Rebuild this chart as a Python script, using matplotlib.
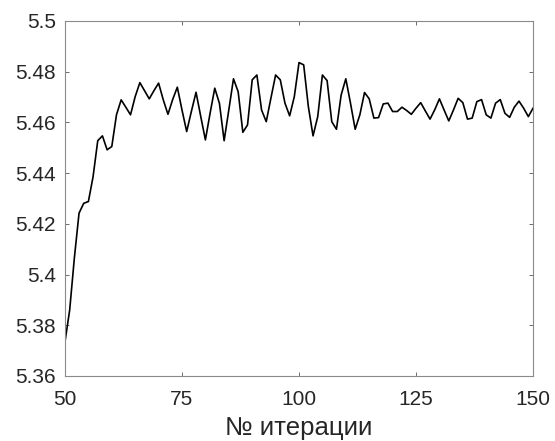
import matplotlib
matplotlib.use('Agg')
import matplotlib.pyplot as plt
from matplotlib.ticker import FuncFormatter

iterations = list(range(50, 151))
values = [
    5.3735, 5.386, 5.4065, 5.4242, 5.4281, 5.4288, 5.4386, 5.4528, 5.4547, 5.4492,
    5.4505, 5.463, 5.4689, 5.466, 5.463, 5.4702, 5.4757, 5.4725, 5.4693, 5.4725,
    5.4755, 5.4689, 5.4632, 5.469, 5.4739, 5.4649, 5.4564, 5.4643, 5.4719, 5.4624,
    5.4531, 5.4636, 5.4735, 5.4675, 5.4528, 5.4649, 5.4772, 5.4721, 5.4561, 5.459,
    5.4768, 5.4787, 5.4649, 5.4603, 5.4696, 5.4787, 5.4768, 5.4676, 5.4626, 5.4702,
    5.4836, 5.4827, 5.4662, 5.4547, 5.4623, 5.4787, 5.4765, 5.4603, 5.4573, 5.4708,
    5.4772, 5.4676, 5.4573, 5.463, 5.4718, 5.4693, 5.4617, 5.4619, 5.4673, 5.4676,
    5.4643, 5.4643, 5.466, 5.4647, 5.4632, 5.4656, 5.4678, 5.4645, 5.4613, 5.465,
    5.4693, 5.4649, 5.4606, 5.4649, 5.4695, 5.4678, 5.4613, 5.4617, 5.4682, 5.469,
    5.463, 5.4617, 5.4676, 5.469, 5.4636, 5.462, 5.466, 5.4684, 5.4656, 5.4623,
    5.4656,
]
x_ticks = [50, 75, 100, 125, 150]
y_ticks = [5.36, 5.38, 5.40, 5.42, 5.44, 5.46, 5.48, 5.5]

plt.rcParams['font.family'] = ['Liberation Sans', 'DejaVu Sans']

fig = plt.figure(figsize=(5.55, 4.41), dpi=100)
ax = fig.add_axes([0.1171, 0.1474, 0.8433, 0.805])
ax.plot(iterations, values, color='black', linewidth=1.2)

ax.set_xlim(50, 150)
ax.set_ylim(5.36, 5.5)
ax.set_xticks(x_ticks)
ax.set_yticks(y_ticks)
ax.yaxis.set_major_formatter(FuncFormatter(lambda v, p: f'{v:g}'))
ax.tick_params(direction='in', top=True, right=True, length=3, width=0.6,
               color='#555555', labelsize=15, labelcolor='#262626')
ax.tick_params(axis='x', pad=10)
ax.tick_params(axis='y', pad=6.5)
for s in ax.spines.values():
    s.set_color('#8a8a8a')
    s.set_linewidth(0.8)
ax.set_xlabel('№ итерации', fontsize=18.5, color='#262626', labelpad=5)

fig.savefig('out.png', dpi=100)
